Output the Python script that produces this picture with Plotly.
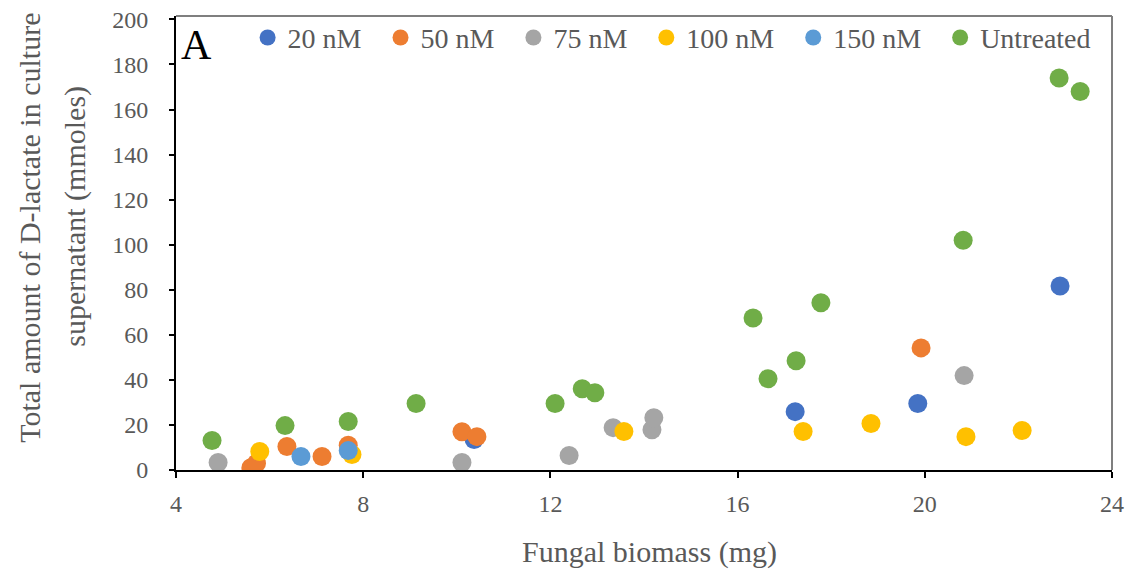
import plotly.graph_objects as go

# ---- data ----
series_names = ["20 nM", "50 nM", "75 nM", "100 nM", "150 nM", "Untreated"]
series_colors = ["#4472C4", "#ED7D31", "#A5A5A5", "#FFC000", "#5B9BD5", "#70AD47"]

x_20 = [10.37, 17.23, 19.85, 22.89]
y_20 = [13.5, 25.9, 29.5, 81.7]

x_50 = [5.60, 5.72, 6.37, 7.12, 7.68, 10.11, 10.43, 19.92]
y_50 = [1.0, 3.0, 10.4, 6.0, 11.0, 17.0, 14.8, 54.2]

x_75 = [4.90, 10.11, 12.40, 13.34, 14.17, 14.21, 20.84]
y_75 = [3.3, 3.3, 6.4, 18.8, 17.9, 23.2, 41.9]

x_100 = [5.79, 7.76, 13.57, 17.40, 18.85, 20.88, 22.08]
y_100 = [8.2, 6.9, 17.1, 17.1, 20.6, 14.8, 17.5]

x_150 = [6.67, 7.68]
y_150 = [6.0, 8.6]

x_untreated = [4.77, 6.33, 7.68, 9.13, 12.10, 12.68, 12.95, 16.33, 16.65, 17.25, 17.78, 20.82, 22.87, 23.32]
y_untreated = [13.1, 19.7, 21.5, 29.5, 29.5, 36.1, 34.3, 67.5, 40.5, 48.5, 74.2, 102.0, 174.0, 168.0]

x_ticks = [4, 8, 12, 16, 20, 24]
y_ticks = [0, 20, 40, 60, 80, 100, 120, 140, 160, 180, 200]

xs = [x_20, x_50, x_75, x_100, x_150, x_untreated]
ys = [y_20, y_50, y_75, y_100, y_150, y_untreated]

FONT = "Liberation Serif, Times New Roman, serif"
TXT = "#595959"
PAD = "\u00a0\u00a0"

fig = go.Figure()
for name, color, xv, yv in zip(series_names, series_colors, xs, ys):
    fig.add_trace(go.Scatter(
        x=xv, y=yv, mode="markers", name=name + PAD,
        marker=dict(size=19, color=color, line=dict(width=0)),
        hovertemplate="%{x}, %{y}<extra>" + name + "</extra>",
    ))

fig.update_layout(
    width=1132, height=581,
    margin=dict(l=176, r=20, t=16, b=110.5, autoexpand=False),
    paper_bgcolor="white", plot_bgcolor="white",
    font=dict(family=FONT, color=TXT, size=24),
    showlegend=True,
    legend=dict(
        orientation="h", x=0.0765, y=1.007, xanchor="left", yanchor="top",
        bgcolor="rgba(0,0,0,0)", borderwidth=0,
        font=dict(family=FONT, size=28, color=TXT),
        itemwidth=30,
    ),
    xaxis=dict(
        range=[4, 24], tickvals=x_ticks, ticktext=[str(v) for v in x_ticks],
        showgrid=False, zeroline=False, automargin=False,
        showline=True, linecolor="black", linewidth=2,
        ticks="outside", ticklen=6, tickwidth=1.5, tickcolor="black",
        tickfont=dict(size=24, color=TXT, family=FONT),
        ticklabelstandoff=5,
    ),
    yaxis=dict(
        range=[0, 201.5], tickvals=y_ticks, ticktext=[str(v) for v in y_ticks],
        showgrid=False, zeroline=False, automargin=False,
        showline=True, linecolor="black", linewidth=2,
        ticks="outside", ticklen=5, tickwidth=1.5, tickcolor="black",
        tickfont=dict(size=24, color=TXT, family=FONT),
        ticklabelstandoff=16,
    ),
    shapes=[
        dict(type="line", xref="paper", yref="paper", x0=0, x1=1, y0=1, y1=1,
             line=dict(color="#7f7f7f", width=2)),
        dict(type="line", xref="paper", yref="paper", x0=1, x1=1, y0=0, y1=1,
             line=dict(color="#7f7f7f", width=2)),
    ],
    annotations=[
        dict(text="A", xref="paper", yref="paper", x=0.003, y=0.991,
             xanchor="left", yanchor="top", showarrow=False,
             font=dict(size=42, color="black", family=FONT)),
        dict(text="Fungal biomass (mg)", xref="paper", yref="paper",
             x=0.506, y=-0.18, xanchor="center", yanchor="middle",
             showarrow=False, font=dict(size=30, color=TXT, family=FONT)),
        dict(text="Total amount of D-lactate in culture", xref="paper", yref="paper",
             x=-0.156, y=0.5335, xanchor="center", yanchor="middle", textangle=-90,
             showarrow=False, font=dict(size=30, color=TXT, family=FONT)),
        dict(text="supernatant (mmoles)", xref="paper", yref="paper",
             x=-0.108, y=0.56, xanchor="center", yanchor="middle", textangle=-90,
             showarrow=False, font=dict(size=30, color=TXT, family=FONT)),
    ],
)

fig.write_html(
    "out.html",
    config={"displayModeBar": False},
    post_script="document.body.style.margin='0';document.body.style.overflow='hidden';",
)
